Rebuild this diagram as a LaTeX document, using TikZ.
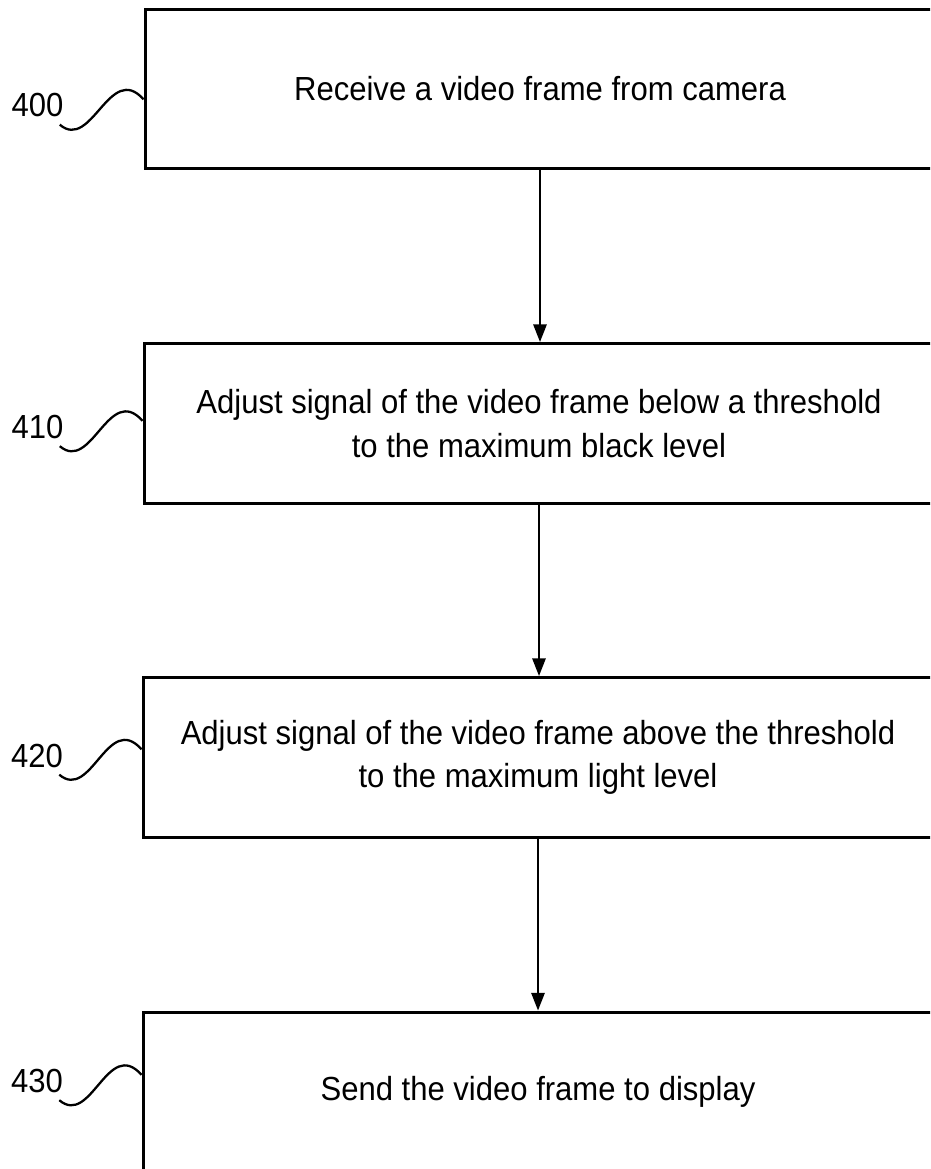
\documentclass[tikz,border=0pt]{standalone}
\usepackage{fontspec}
\setmainfont[FakeStretch=0.93]{Liberation Sans}
\usetikzlibrary{calc}
\usetikzlibrary{arrows.meta}

\tikzset{
    stepbox/.style={draw, line width=1.7pt, minimum width=15.8cm, minimum height=3.2cm,
        align=center, font=\fontsize{19}{24.7}\selectfont},
    reflabel/.style={inner sep=0pt, font=\fontsize{19}{24.7}\selectfont},
    leader/.style={line width=1.3pt},
    flow/.style={line width=1.2pt, -{Triangle[length=10pt,width=7.5pt]}}
}

\begin{document}
\begin{tikzpicture}[x=0.02cm,y=-0.02cm]
    \clip (0,0) rectangle (930,1169);

    \node[stepbox] at (540,89) (b400) {Receive a video frame from camera};
    \node[stepbox] at (539,423.5) (b410) {Adjust signal of the video frame below a threshold\\to the maximum black level};
    \node[stepbox] at (538,757.5) (b420) {Adjust signal of the video frame above the threshold\\to the maximum light level};
    \node[stepbox] at (538,1092) (b430) {Send the video frame to display};

    \node[reflabel] at (37.5,105.5) (l400) {400};
    \node[reflabel] at (37.5,427) (l410) {410};
    \node[reflabel] at (37,755.5) (l420) {420};
    \node[reflabel] at (37,1081) (l430) {430};

    % reference leaders
    \draw[leader] ($(l400.south east)+(-4,7)$) .. controls +(32,27) and +(-34,-38) .. ($(b400.west |- l400.north)+(0,6)$);
    \draw[leader] ($(l410.south east)+(-4,7)$) .. controls +(32,27) and +(-34,-38) .. ($(b410.west |- l410.north)+(0,6)$);
    \draw[leader] ($(l420.south east)+(-4,7)$) .. controls +(32,27) and +(-34,-38) .. ($(b420.west |- l420.north)+(0,6)$);
    \draw[leader] ($(l430.south east)+(-4,7)$) .. controls +(32,27) and +(-34,-38) .. ($(b430.west |- l430.north)+(0,6)$);

    % flow
    \draw[flow] (b400.south) -- (b400.south |- b410.north);
    \draw[flow] (b410.south) -- (b410.south |- b420.north);
    \draw[flow] (b420.south) -- (b420.south |- b430.north);
\end{tikzpicture}
\end{document}
